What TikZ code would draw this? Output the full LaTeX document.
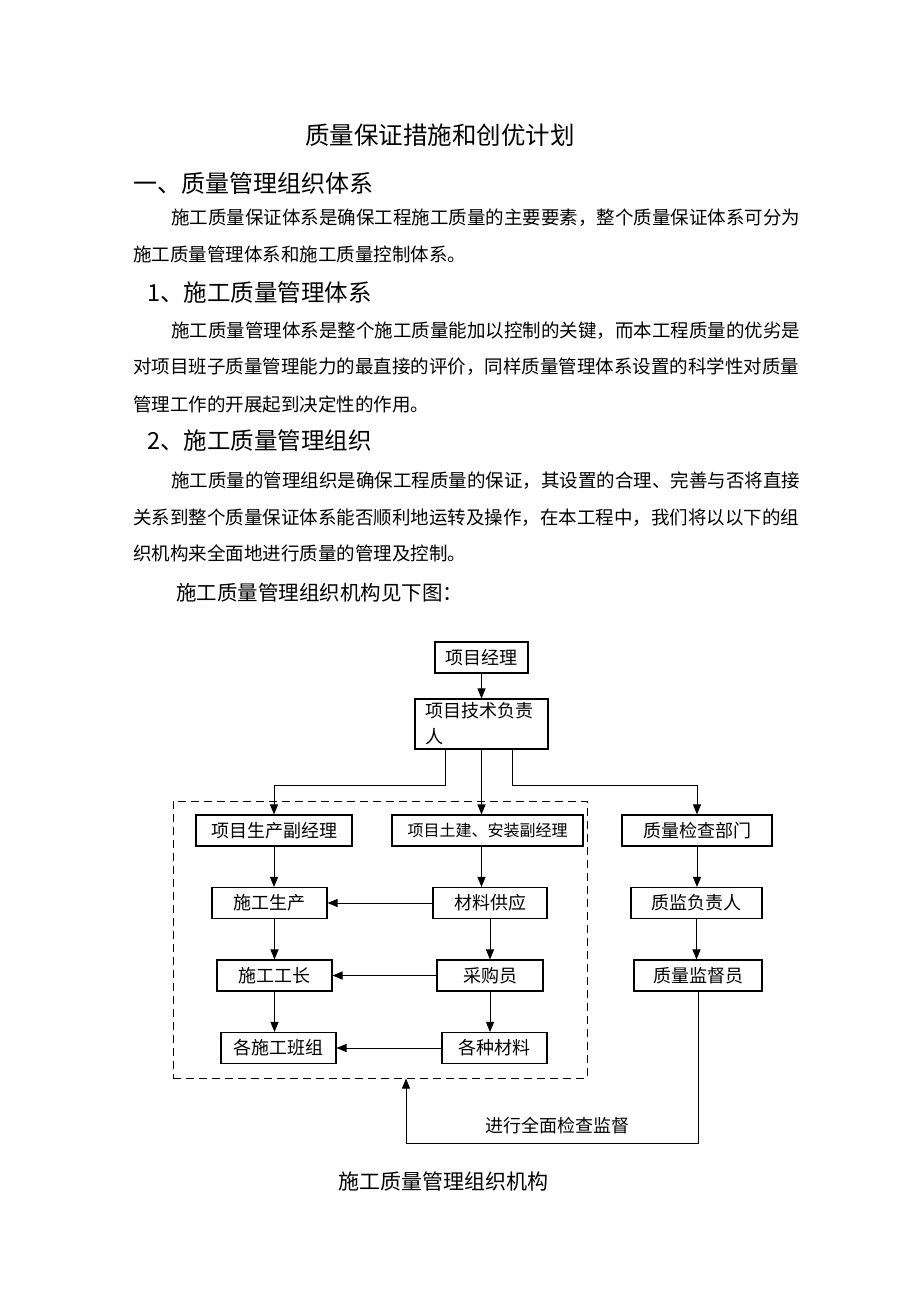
\documentclass[tikz,border=0pt]{standalone}
\usepackage{fontspec}
\setmainfont{Noto Sans CJK SC}
\usetikzlibrary{arrows.meta}
\tikzstyle{box} = [rectangle, draw=black, line width=1.1pt, minimum height=31pt, inner sep=0pt, font=\fontsize{18}{18}\selectfont]
\tikzstyle{arrow} = [line width=1pt, -{Triangle[length=10pt,width=8pt]}]
\tikzstyle{line} = [anchor=west, inner sep=0pt, font=\fontsize{18.5}{18.5}\selectfont]
\tikzstyle{head} = [anchor=west, inner sep=0pt, font=\fontsize{23.5}{23.5}\selectfont]

\begin{document}
\begin{tikzpicture}[x=1pt, y=-1pt]
\useasboundingbox [fill=white] (0,0) rectangle (920,1302);

% page text
\node (title) [inner sep=0pt, font=\fontsize{24.5}{24.5}\selectfont] at (440,135) {质量保证措施和创优计划};
\node (h1) [head, font=\fontsize{24}{24}\selectfont] at (133,183) {一、质量管理组织体系};
\node (p1a) [line] at (171,218) {施工质量保证体系是确保工程施工质量的主要要素，整个质量保证体系可分为};
\node (p1b) [line] at (133,254) {施工质量管理体系和施工质量控制体系。};
\node (h2) [head] at (147,293) {1、施工质量管理体系};
\node (p2a) [line] at (171,331) {施工质量管理体系是整个施工质量能加以控制的关键，而本工程质量的优劣是};
\node (p2b) [line] at (133,367) {对项目班子质量管理能力的最直接的评价，同样质量管理体系设置的科学性对质量};
\node (p2c) [line] at (133,404) {管理工作的开展起到决定性的作用。};
\node (h3) [head] at (147,441) {2、施工质量管理组织};
\node (p3a) [line] at (171,481) {施工质量的管理组织是确保工程质量的保证，其设置的合理、完善与否将直接};
\node (p3b) [line] at (133,518) {关系到整个质量保证体系能否顺利地运转及操作，在本工程中，我们将以以下的组};
\node (p3c) [line] at (133,553) {织机构来全面地进行质量的管理及控制。};
\node (intro) [line, font=\fontsize{20.5}{20.5}\selectfont] at (176,593) {施工质量管理组织机构见下图：};

% organisation chart
\node (pm) [box, minimum width=93pt] at (481.5,657.5) {项目经理};
\node (tech) [box, minimum height=50pt, text width=113pt, inner xsep=10pt, align=left, font=\fontsize{18}{26}\selectfont] at (481.5,724) {项目技术负责\\人};
\draw [arrow] (pm) -- (tech);

\node (grp) [rectangle, draw=black, dash pattern=on 8pt off 5pt, line width=1pt, minimum width=414pt, minimum height=277pt] at (380,939.5) {};

\node (prod) [box, minimum width=156pt] at (274,830.5) {项目生产副经理};
\node (civil) [box, minimum width=191pt, font=\fontsize{16}{16}\selectfont] at (487.5,830.5) {项目土建、安装副经理};
\node (qdept) [box, minimum width=150pt] at (697,830.5) {质量检查部门};

\coordinate (split) at (0,785);
\draw [arrow] ([xshift=-36pt]tech.south) -- ([xshift=-36pt]tech.south |- split) -| (prod.north);
\draw [arrow] (tech.south) -- (tech.south |- civil.north);
\draw [arrow] ([xshift=31pt]tech.south) -- ([xshift=31pt]tech.south |- split) -| (qdept.north);

\node (build) [box, minimum width=115pt] at (269.5,903) {施工生产};
\node (supply) [box, minimum width=114pt] at (490,903) {材料供应};
\node (foreman) [box, minimum width=115pt] at (274.5,975.5) {施工工长};
\node (buyer) [box, minimum width=106pt] at (490,975.5) {采购员};
\node (teams) [box, minimum width=115pt] at (278.5,1048) {各施工班组};
\node (mats) [box, minimum width=105pt] at (494.5,1048) {各种材料};

\draw [arrow] (prod.south) -- (prod.south |- build.north);
\draw [arrow] (build.south -| foreman.north) -- (foreman.north);
\draw [arrow] (foreman.south) -- (foreman.south |- teams.north);
\draw [arrow] (civil.south -| tech.south) -- (tech.south |- supply.north);
\draw [arrow] (supply.south) -- (supply.south |- buyer.north);
\draw [arrow] (buyer.south) -- (buyer.south |- mats.north);
\draw [arrow] (supply) -- (build);
\draw [arrow] (buyer) -- (foreman);
\draw [arrow] (mats) -- (teams);

\node (qlead) [box, minimum width=131pt] at (696.5,903) {质监负责人};
\node (qsup) [box, minimum width=128pt] at (698,975.5) {质量监督员};
\draw [arrow] (qdept.south) -- (qdept.south |- qlead.north);
\draw [arrow] (qlead.south) -- (qlead.south |- qsup.north);

\coordinate (fb) at (406,1143);
\draw [arrow] (qsup.south) |- (fb) -- (fb |- grp.south);
\node (check) [inner sep=0pt, font=\fontsize{18}{18}\selectfont] at (557,1126) {进行全面检查监督};

\node (caption) [inner sep=0pt, font=\fontsize{21}{21}\selectfont] at (443,1181) {施工质量管理组织机构};
\end{tikzpicture}
\end{document}
